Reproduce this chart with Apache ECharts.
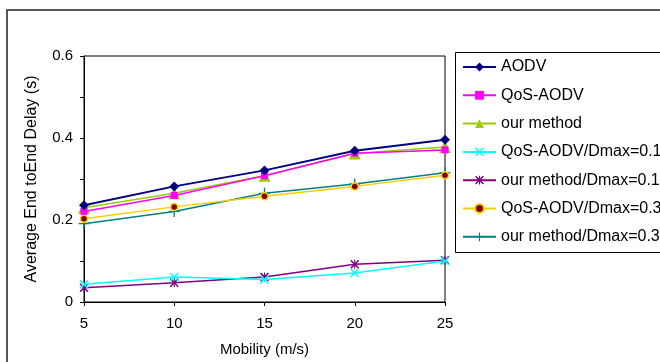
<!DOCTYPE html>
<html>
<head>
<meta charset="utf-8">
<script src="https://cdn.jsdelivr.net/npm/echarts@6/dist/echarts.min.js"></script>
<style>html,body{margin:0;padding:0;background:#fff;}#c{width:660px;height:362px;}</style>
</head>
<body>
<div id="c"></div>
<script>
var mobility = [5, 10, 15, 20, 25];
var seriesNames = ['AODV', 'QoS-AODV', 'our method', 'QoS-AODV/Dmax=0.1', 'our method/Dmax=0.1', 'QoS-AODV/Dmax=0.3', 'our method/Dmax=0.3'];
var aodv = [0.236, 0.282, 0.321, 0.369, 0.396];
var qosAodv = [0.221, 0.260, 0.308, 0.363, 0.371];
var ourMethod = [0.230, 0.265, 0.308, 0.362, 0.378];
var qosAodvD01 = [0.043, 0.061, 0.055, 0.071, 0.100];
var ourMethodD01 = [0.035, 0.047, 0.061, 0.092, 0.102];
var qosAodvD03 = [0.203, 0.232, 0.258, 0.282, 0.309];
var ourMethodD03 = [0.191, 0.221, 0.265, 0.288, 0.315];
var yTickLabels = ['0', '0.2', '0.4', '0.6'];

var FONT = 'Liberation Sans, Arial, sans-serif';
var X_SYM = 'path://M0,1.2L1.2,0L5,3.8L8.8,0L10,1.2L6.2,5L10,8.8L8.8,10L5,6.2L1.2,10L0,8.8L3.8,5Z';
var STAR_SYM = 'path://M0,1.2L1.2,0L4.4,3.2V0H5.6V3.2L8.8,0L10,1.2L6.2,5L10,8.8L8.8,10L5.6,6.8V10H4.4V6.8L1.2,10L0,8.8L3.8,5Z';
var PLUS_SYM = 'path://M4.4,0H5.6V4.4H10V5.6H5.6V10H4.4V5.6H0V4.4H4.4Z';

function pts(arr) { return mobility.map(function (m, i) { return [m, arr[i]]; }); }

var defs = [
  {data: aodv, color: '#000080', symbol: 'diamond', size: 10, width: 2},
  {data: qosAodv, color: '#FF00FF', symbol: 'rect', size: 7, width: 1.5},
  {data: ourMethod, color: '#99CC00', symbol: 'triangle', size: 12, width: 1.5},
  {data: qosAodvD01, color: '#00FFFF', symbol: X_SYM, size: 9, width: 1.5},
  {data: ourMethodD01, color: '#800080', symbol: STAR_SYM, size: 9, width: 1.5},
  {data: qosAodvD03, color: '#FFCC00', symbol: 'circle', size: 7, width: 1.5, fill: '#800000'},
  {data: ourMethodD03, color: '#008080', symbol: PLUS_SYM, size: 11, width: 1.5}
];

var series = defs.map(function (d, i) {
  return {
    name: seriesNames[i],
    type: 'line',
    data: pts(d.data),
    symbol: d.symbol,
    symbolSize: d.size,
    showAllSymbol: true,
    animation: false,
    z: 10 - i,
    lineStyle: {color: d.color, width: d.width},
    itemStyle: d.fill ? {color: d.fill, borderColor: d.color, borderWidth: 1.5} : {color: d.color, borderWidth: 0}
  };
});

var chart = echarts.init(document.getElementById('c'), null, {renderer: 'canvas'});
chart.setOption({
  backgroundColor: '#fff',
  animation: false,
  textStyle: {fontFamily: FONT},
  grid: {left: 84, top: 56, right: 215, bottom: 59, show: true, borderColor: '#000', borderWidth: 1, containLabel: false},
  legend: {
    orient: 'vertical', left: 462, top: 59, padding: 0,
    itemWidth: 33, itemHeight: 11, itemGap: 12.3,
    textStyle: {fontFamily: FONT, fontSize: 16, color: '#000', lineHeight: 16},
    data: seriesNames
  },
  xAxis: {
    type: 'value', min: 5, max: 25, interval: 5,
    name: 'Mobility (m/s)', nameLocation: 'middle', nameGap: 40,
    nameTextStyle: {fontFamily: FONT, fontSize: 15, color: '#000'},
    axisLine: {lineStyle: {color: '#000', width: 1}},
    axisTick: {inside: false, length: 4, lineStyle: {color: '#000'}},
    axisLabel: {fontFamily: FONT, fontSize: 15, color: '#000', margin: 14},
    splitLine: {show: false}
  },
  yAxis: {
    type: 'value', min: 0, max: 0.6, interval: 0.1,
    name: 'Average End toEnd Delay (s)', nameLocation: 'middle', nameGap: 44,
    nameTextStyle: {fontFamily: FONT, fontSize: 16, color: '#000'},
    axisLine: {show: true, lineStyle: {color: '#000', width: 1}},
    axisTick: {show: true, inside: false, length: 4, lineStyle: {color: '#000'}},
    axisLabel: {
      fontFamily: FONT, fontSize: 15, color: '#000', margin: 11,
      formatter: function (v) {
        var k = Math.round(v * 10);
        return k % 2 === 0 ? yTickLabels[k / 2] : '';
      }
    },
    splitLine: {show: false}
  },
  graphic: [
    {type: 'rect', shape: {x: 7, y: 10, width: 700, height: 400}, style: {fill: 'none', stroke: '#222', lineWidth: 1.5}, silent: true, z: 0},
    {type: 'rect', shape: {x: 455.5, y: 52.5, width: 300, height: 200}, style: {fill: 'none', stroke: '#000', lineWidth: 1}, silent: true, z: 0}
  ],
  series: series
});
</script>
</body>
</html>
